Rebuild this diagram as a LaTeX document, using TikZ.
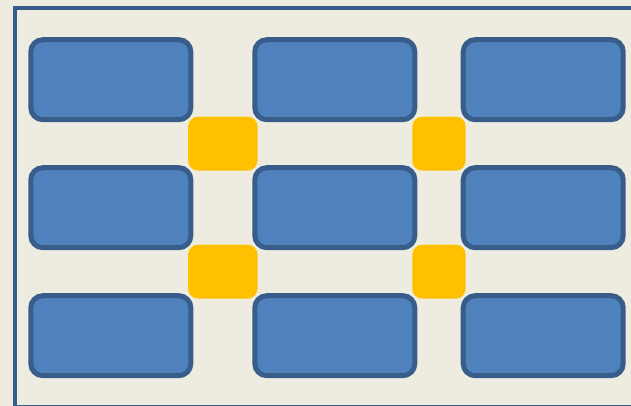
\documentclass[tikz,border=0pt]{standalone}
\usepackage{tikz}
\usetikzlibrary{
    positioning,
    calc
}
\definecolor{paper}{RGB}{238,236,225}
\definecolor{cellblue}{RGB}{79,129,189}
\definecolor{celledge}{RGB}{56,93,138}
\definecolor{jointgold}{RGB}{255,192,0}
\tikzstyle{cell} = [
    rectangle,
    rounded corners=12pt,
    draw=celledge,
    fill=cellblue,
    line width=5pt,
    minimum width=160pt,
    minimum height=80pt,
    inner sep=0pt
]
\tikzstyle{joint} = [
    rectangle,
    rounded corners=10pt,
    fill=jointgold,
    minimum height=54pt,
    inner sep=0pt
]
\tikzstyle{frame} = [
    draw=celledge,
    line width=4.5pt
]

\begin{document}
\begin{tikzpicture}[x=1pt, y=-1pt]
    \useasboundingbox (0,0) rectangle (631,406);
    \clip (0,0) rectangle (631,406);
    \fill[paper] (0,0) rectangle (631,406);
    \draw[frame] (14.8,7.9) rectangle (640,407);

    % Cells
    \node[cell] (c11) at (110.8,79.7) {};
    \node[cell, right=59pt of c11] (c12) {};
    \node[cell, right=43.4pt of c12] (c13) {};
    \node[cell, below=43pt of c11] (c21) {};
    \node[cell, right=59pt of c21] (c22) {};
    \node[cell, right=43.4pt of c22] (c23) {};
    \node[cell, below=43pt of c21] (c31) {};
    \node[cell, right=59pt of c31] (c32) {};
    \node[cell, right=43.4pt of c32] (c33) {};

    % Joints
    \node[joint, minimum width=69.4pt] (j1a) at ($(c11.south east)!0.5!(c22.north west)$) {};
    \node[joint, minimum width=53.4pt] (j1b) at ($(c12.south east)!0.5!(c23.north west)$) {};
    \node[joint, minimum width=69.4pt] (j2a) at ($(c21.south east)!0.5!(c32.north west)$) {};
    \node[joint, minimum width=53.4pt] (j2b) at ($(c22.south east)!0.5!(c33.north west)$) {};
\end{tikzpicture}
\end{document}
